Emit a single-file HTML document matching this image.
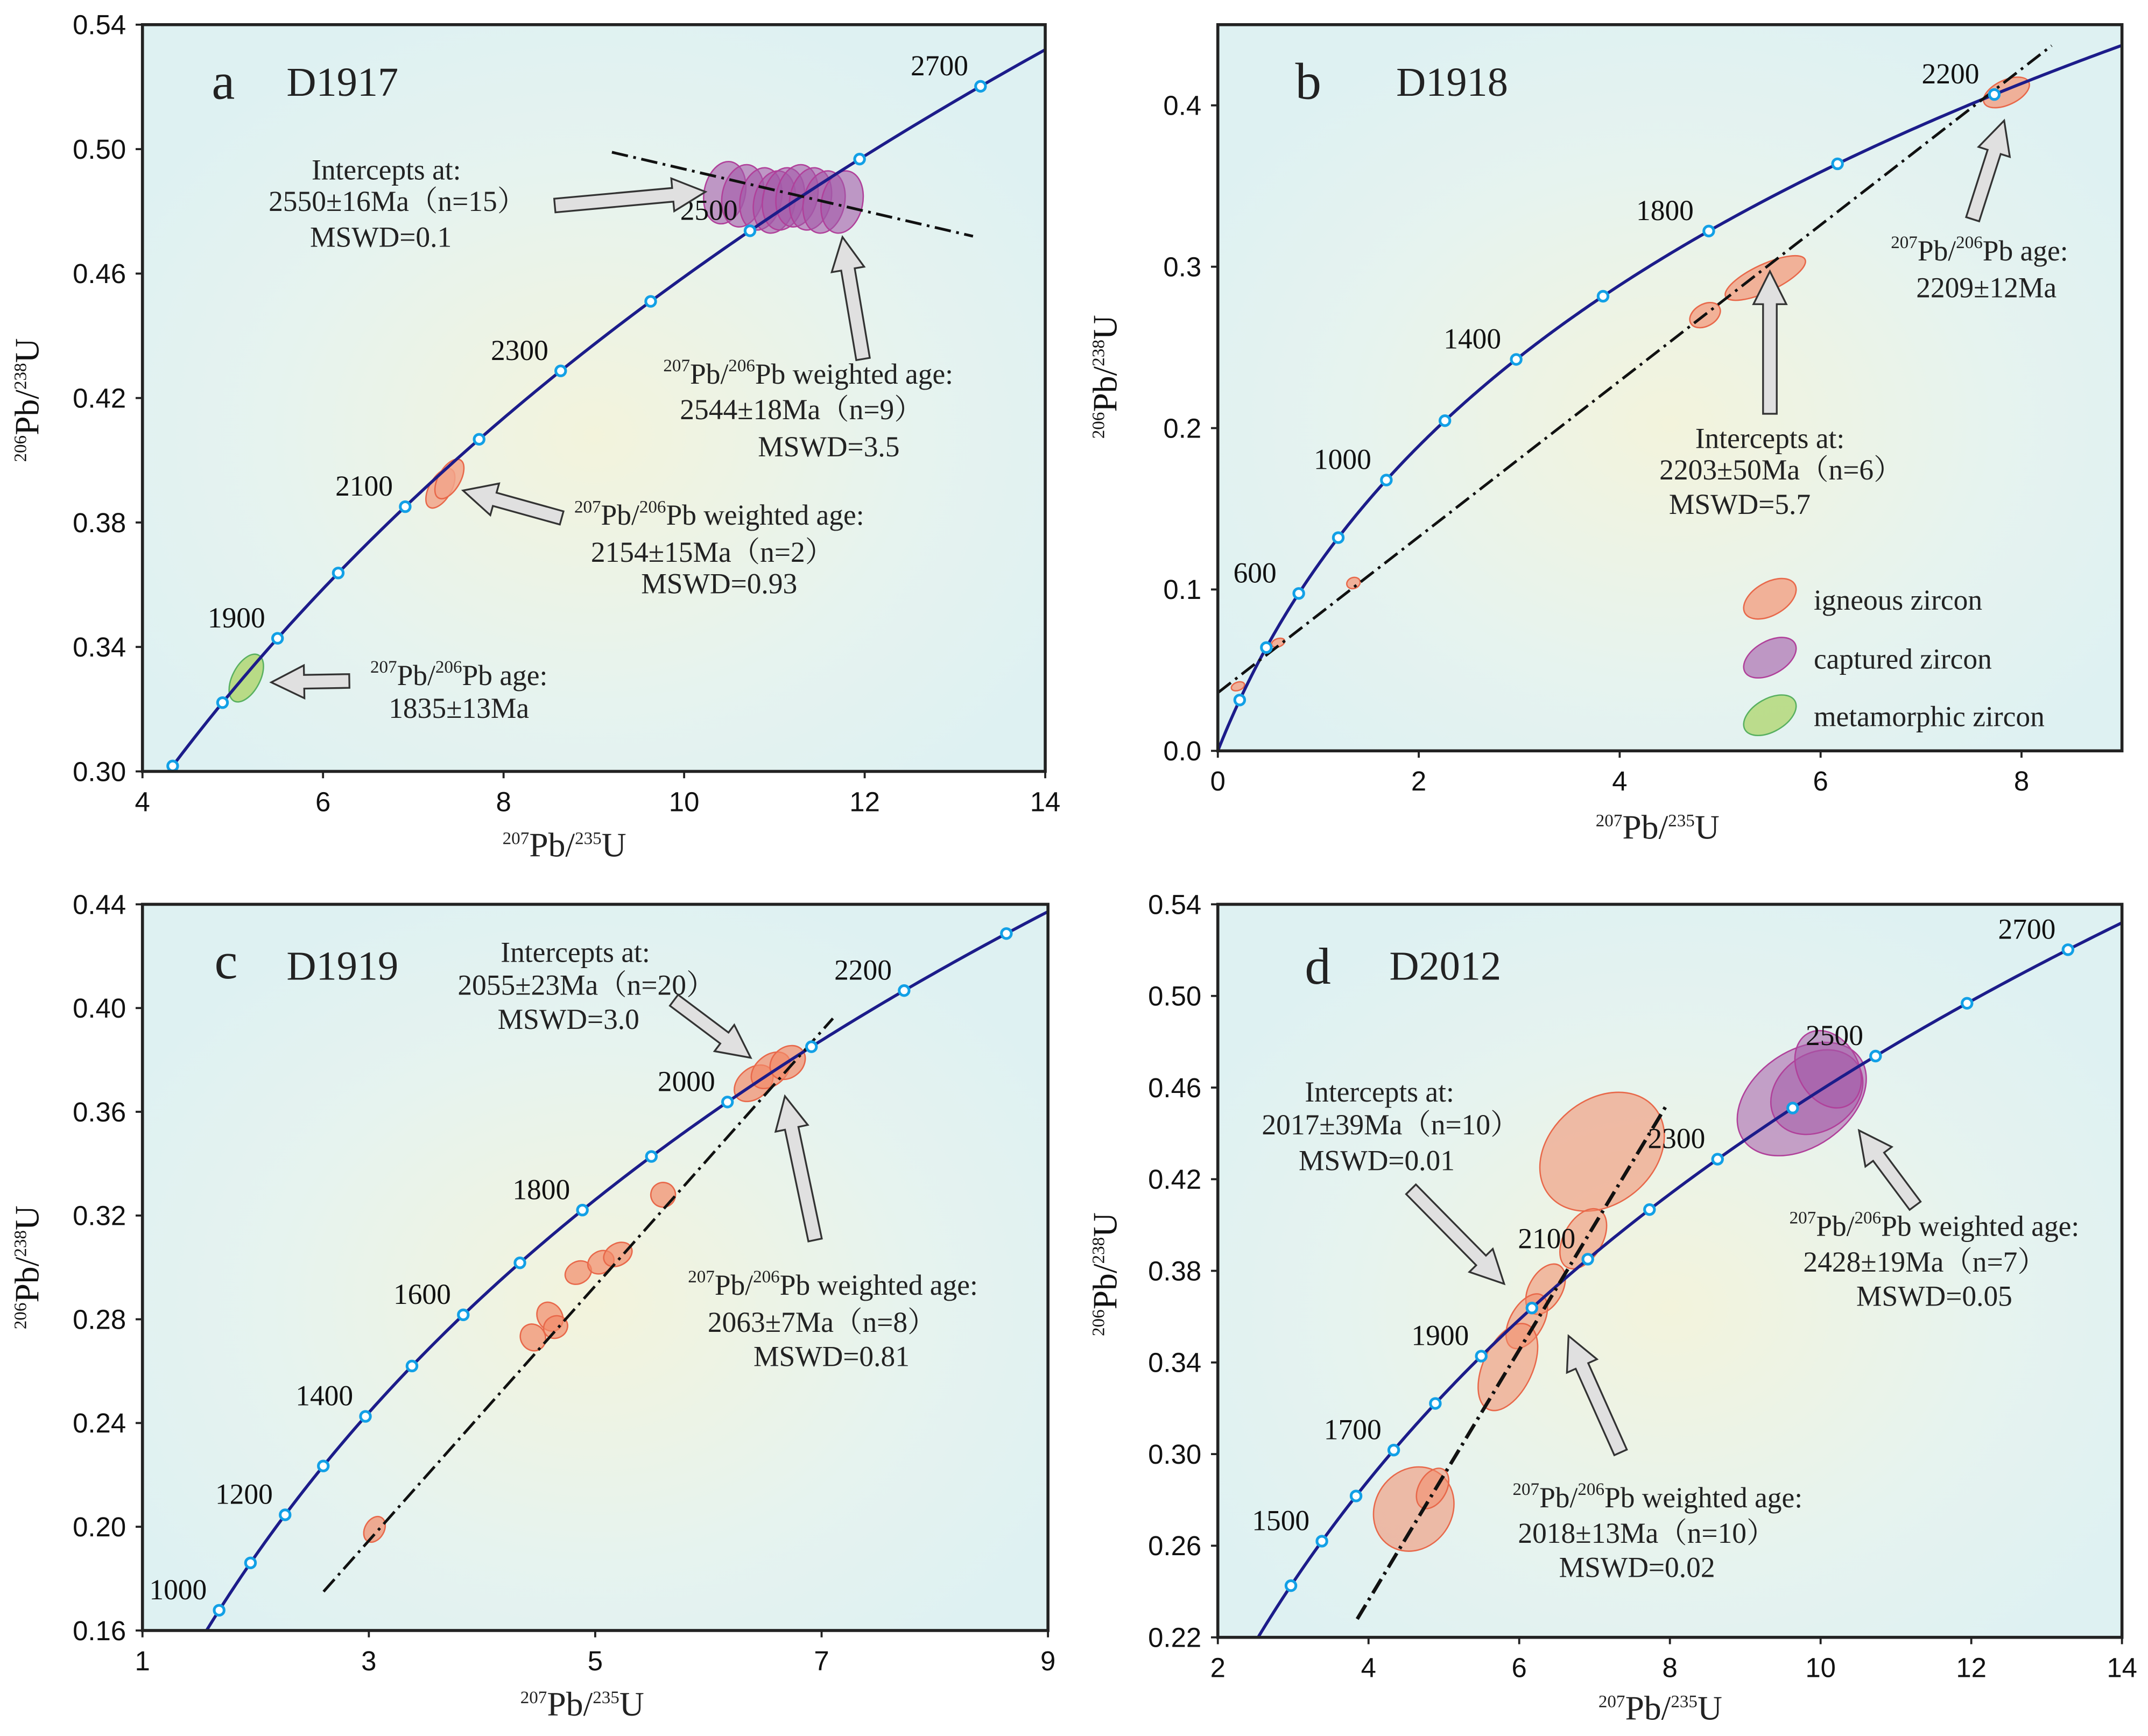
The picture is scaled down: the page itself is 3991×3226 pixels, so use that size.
<!DOCTYPE html>
<html><head><meta charset="utf-8"><style>html,body{margin:0;padding:0;background:#fff;overflow:hidden;width:3991px;height:3226px}svg{display:block}</style></head>
<body>
<svg id="fig" xmlns="http://www.w3.org/2000/svg" width="3991" height="3226" viewBox="0 0 1568 1267" preserveAspectRatio="none">
<defs>
<radialGradient id="bg" cx="0.5" cy="0.55" r="0.6">
<stop offset="0" stop-color="#f3f3dc"/><stop offset="0.6" stop-color="#e6f3ef"/><stop offset="1" stop-color="#def1f2"/>
</radialGradient>
</defs>
<rect width="1568" height="1267" fill="#fff"/>
</svg>
<script>
// ---------- data ----------
// Panel a
const aXTicks=[4,6,8,10,12,14];
const aYTicks=[0.30,0.34,0.38,0.42,0.46,0.50,0.54];
const aAgeLabels=[1900,2100,2300,2500,2700];
const aPurpleX=[10.45,10.65,10.85,11.0,11.1,11.25,11.4,11.55,11.75];
const aPurpleY=[0.486,0.485,0.484,0.483,0.484,0.485,0.484,0.483,0.483];
const aOrangeX=[7.3,7.4];const aOrangeY=[0.391,0.394];
const aGreenX=[5.15];const aGreenY=[0.330];
const aDisc=[[9.2,0.499],[13.2,0.472]];
// Panel b
const bXTicks=[0,2,4,6,8];
const bYTicks=[0.0,0.1,0.2,0.3,0.4];
const bAgeLabels=[600,1000,1400,1800,2200];
const bOrangeX=[7.85,5.45,4.85,1.35,0.6,0.2];
const bOrangeY=[0.408,0.293,0.270,0.104,0.067,0.040];
const bDisc=[[0,0.036],[8.3,0.437]];
// Panel c
const cXTicks=[1,3,5,7,9];
const cYTicks=[0.16,0.20,0.24,0.28,0.32,0.36,0.40,0.44];
const cAgeLabels=[1000,1200,1400,1600,1800,2000,2200];
const cOrangeX=[6.4,6.55,6.7,5.6,4.85,5.05,5.2,4.6,4.65,4.45,3.05];
const cOrangeY=[0.371,0.376,0.379,0.328,0.298,0.302,0.305,0.281,0.277,0.273,0.199];
const cDisc=[[2.6,0.175],[7.1,0.396]];
// Panel d
const dXTicks=[2,4,6,8,10,12,14];
const dYTicks=[0.22,0.26,0.30,0.34,0.38,0.42,0.46,0.50,0.54];
const dAgeLabels=[1500,1700,1900,2100,2300,2500,2700];
const dOrangeX=[7.1,6.85,6.35,6.1,5.85,4.6,4.85];
const dOrangeY=[0.432,0.394,0.372,0.358,0.338,0.276,0.285];
const dPurpleX=[9.75,9.95,10.1];
const dPurpleY=[0.455,0.458,0.468];
const dDisc=[[3.85,0.228],[7.95,0.452]];

// ---------- helpers ----------
const NS="http://www.w3.org/2000/svg";
const svg=document.getElementById('fig');
function mk(tag,attrs,parent){const e=document.createElementNS(NS,tag);for(const k in attrs)e.setAttribute(k,attrs[k]);(parent||svg).appendChild(e);return e;}
const L238=1.55125e-4,L235=9.8485e-4; // per Ma
function conc(t){return [Math.exp(L235*t)-1,Math.exp(L238*t)-1];}
function panel(cfg){
  const g=mk('g',{});
  
  
  const sx=v=>cfg.x0+(v-cfg.xd[0])/(cfg.xd[1]-cfg.xd[0])*(cfg.x1-cfg.x0);
  const sy=v=>cfg.y1-(v-cfg.yd[0])/(cfg.yd[1]-cfg.yd[0])*(cfg.y1-cfg.y0);
  const bg=mk('rect',{x:cfg.x0,y:cfg.y0,width:cfg.x1-cfg.x0,height:cfg.y1-cfg.y0,fill:'url(#bg)'},g);
  
  
  const cid='clip'+cfg.id;
  const cp=mk('clipPath',{id:cid},g);mk('rect',{x:cfg.x0,y:cfg.y0,width:cfg.x1-cfg.x0,height:cfg.y1-cfg.y0},cp);
  const inner=mk('g',{'clip-path':'url(#'+cid+')'},g);
  cfg.ells.forEach(s=>{
    s.xs.forEach((xv,i)=>{
      const e=mk('ellipse',{cx:0,cy:0,rx:s.rx[i],ry:s.ry[i],fill:s.fill,'fill-opacity':s.op,stroke:s.stroke,'stroke-width':1,
        transform:`translate(${sx(xv)},${sy(s.ys[i])}) rotate(${s.rot[i]})`},inner);
      
      
    });
  });
  let d='';
  for(let t=0;t<=3200;t+=5){const p=conc(t);d+=(t?'L':'M')+sx(p[0]).toFixed(2)+','+sy(p[1]).toFixed(2);}
  const cc=mk('path',{d:d,fill:'none',stroke:'#1c1c8a','stroke-width':2.2},inner);
  
  
  const dl=mk('line',{x1:sx(cfg.disc[0][0]),y1:sy(cfg.disc[0][1]),x2:sx(cfg.disc[1][0]),y2:sy(cfg.disc[1][1]),stroke:'#111','stroke-width':cfg.discW||2,'stroke-dasharray':'12,4,2,4'},inner);
  
  
  for(let t=cfg.ageStart;t<=cfg.ageEnd;t+=cfg.ageStep){
    const p=conc(t);
    const m=mk('circle',{cx:sx(p[0]),cy:sy(p[1]),r:3.6,fill:'#fff',stroke:'#12a0e6','stroke-width':2},inner);
    
    
  }
  cfg.ageLabels.forEach(t=>{
    const p=conc(t);
    const tx=mk('text',{x:sx(p[0])-cfg.lblDx,y:sy(p[1])-cfg.lblDy,'font-family':'"Liberation Serif",serif','font-size':21,'text-anchor':'middle',fill:'#111'},g);
    tx.textContent=t;
    
    
  });
  const fr=mk('rect',{x:cfg.x0,y:cfg.y0,width:cfg.x1-cfg.x0,height:cfg.y1-cfg.y0,fill:'none',stroke:'#222','stroke-width':2.2},g);
  
  
  cfg.xt.forEach(v=>{
    mk('line',{x1:sx(v),x2:sx(v),y1:cfg.y1,y2:cfg.y1+5,stroke:'#222','stroke-width':1.5},g);
    const t=mk('text',{x:sx(v),y:cfg.y1+29,'font-family':'"Liberation Sans",sans-serif','font-size':20,'text-anchor':'middle',fill:'#111'},g);
    t.textContent=v;
    
    
  });
  cfg.yt.forEach(v=>{
    mk('line',{x1:cfg.x0-5,x2:cfg.x0,y1:sy(v),y2:sy(v),stroke:'#222','stroke-width':1.5},g);
    const t=mk('text',{x:cfg.x0-12,y:sy(v)+7,'font-family':'"Liberation Sans",sans-serif','font-size':20,'text-anchor':'end',fill:'#111'},g);
    t.textContent=v.toFixed(cfg.yDec);
    
    
  });
  return g;
}
function rich(x,y,html,name,size,anchor){
  const t=mk('text',{x:x,y:y,'font-family':'"Liberation Serif","Noto Serif CJK SC",serif','font-size':size||21,'text-anchor':anchor||'middle',fill:'#222'});
  t.innerHTML=html;
  
  
  return t;
}
const SUP=(s)=>`<tspan font-size="13" dy="-9">${s}</tspan><tspan dy="9">`;
const PBPB=`${SUP('207')}Pb/</tspan>${SUP('206')}Pb</tspan>`;
function arrow(x1,y1,x2,y2,name){
  const dx=x2-x1,dy=y2-y1,L=Math.hypot(dx,dy),ux=dx/L,uy=dy/L,nx=-uy,ny=ux;
  const w=5,hw=12,hl=24;
  const bx=x2-ux*hl,by=y2-uy*hl;
  const pts=[[x1+nx*w,y1+ny*w],[bx+nx*w,by+ny*w],[bx+nx*hw,by+ny*hw],[x2,y2],[bx-nx*hw,by-ny*hw],[bx-nx*w,by-ny*w],[x1-nx*w,y1-ny*w]];
  const p=mk('polygon',{points:pts.map(q=>q.join(',')).join(' '),fill:'#e0e0e0',stroke:'#333','stroke-width':1.3});
  
  
}
function axisTitles(cx,by,lx,cy){
  rich(cx,by,`${SUP('207')}Pb/</tspan>${SUP('235')}U</tspan>`,'x-axis-title',25);
  const t=mk('text',{transform:`translate(${lx},${cy}) rotate(-90)`,'font-family':'"Liberation Serif",serif','font-size':25,'text-anchor':'middle',fill:'#111'});
  t.innerHTML=`${SUP('206')}Pb/</tspan>${SUP('238')}U</tspan>`;
  
  
}
const ORF='#f2a48a',ORS='#e8684a',PUF='#a45aa8',PUS='#b0409a',GRF='#b4d87a',GRS='#58b060';

// ---------- panel a ----------
panel({id:'a',name:'panel-a',x0:104,x1:763,y0:18,y1:563,xd:[4,14],yd:[0.30,0.54],xt:aXTicks,yt:aYTicks,yDec:2,
  ageStart:1700,ageEnd:2800,ageStep:100,ageLabels:aAgeLabels,lblDx:30,lblDy:8,disc:aDisc,
  ells:[{label:'captured-zircon',xs:aPurpleX,ys:aPurpleY,rx:aPurpleX.map(()=>15),ry:aPurpleX.map(()=>23),rot:aPurpleX.map(()=>12),fill:PUF,op:0.6,stroke:PUS},
        {label:'igneous-zircon',xs:aOrangeX,ys:aOrangeY,rx:[8,8],ry:[16,16],rot:[30,30],fill:ORF,op:0.85,stroke:ORS},
        {label:'metamorphic-zircon',xs:aGreenX,ys:aGreenY,rx:[10],ry:[19],rot:[28],fill:GRF,op:0.9,stroke:GRS}]});
rich(163,72,'a','panel-letter-a',38);
rich(250,70,'D1917','sample-label-a',30);
rich(282,131,'Intercepts at:','annot-a1-l1');
rich(290,154,'2550±16Ma（n=15）','annot-a1-l2');
rich(278,180,'MSWD=0.1','annot-a1-l3');
arrow(405,150,515,140,'arrow-a1');
rich(590,280,PBPB+' weighted age:','annot-a2-l1');
rich(585,306,'2544±18Ma（n=9）','annot-a2-l2');
rich(605,333,'MSWD=3.5','annot-a2-l3');
arrow(630,262,615,173,'arrow-a2');
rich(525,383,PBPB+' weighted age:','annot-a3-l1');
rich(520,410,'2154±15Ma（n=2）','annot-a3-l2');
rich(525,433,'MSWD=0.93','annot-a3-l3');
arrow(410,378,338,358,'arrow-a3');
rich(335,500,PBPB+' age:','annot-a4-l1');
rich(335,524,'1835±13Ma','annot-a4-l2');
arrow(255,497,198,498,'arrow-a4');
axisTitles(412,625,28,292);

// ---------- panel b ----------
panel({id:'b',name:'panel-b',x0:889,x1:1549,y0:18,y1:548,xd:[0,9],yd:[0,0.45],xt:bXTicks,yt:bYTicks,yDec:1,
  ageStart:200,ageEnd:2600,ageStep:200,ageLabels:bAgeLabels,lblDx:32,lblDy:8,disc:bDisc,
  ells:[{label:'igneous-zircon',xs:bOrangeX,ys:bOrangeY,rx:[18,32,12,5,5,5],ry:[9,10,8,4,3,3],rot:[-25,-25,-30,-20,-20,-20],fill:ORF,op:0.85,stroke:ORS}]});
rich(955,72,'b','panel-letter-b',38);
rich(1060,70,'D1918','sample-label-b',30);
rich(1445,190,`${SUP('207')}Pb/</tspan>${SUP('206')}Pb</tspan>  age:`,'annot-b1-l1');
rich(1450,217,'2209±12Ma','annot-b1-l2');
arrow(1440,160,1463,88,'arrow-b1');
rich(1292,327,'Intercepts at:','annot-b2-l1');
rich(1300,350,'2203±50Ma（n=6）','annot-b2-l2');
rich(1270,375,'MSWD=5.7','annot-b2-l3');
arrow(1292,302,1292,198,'arrow-b2');
[[ORF,ORS,'igneous zircon',437],[PUF,PUS,'captured zircon',480],[GRF,GRS,'metamorphic zircon',522]].forEach(l=>{
  const e=mk('ellipse',{cx:0,cy:0,rx:21,ry:12,fill:l[0],'fill-opacity':l[0]===PUF?0.6:0.85,stroke:l[1],transform:`translate(1292,${l[3]}) rotate(-30)`});
  
  
  rich(1324,l[3]+8,l[2],'legend-entry',21,'start');
});
axisTitles(1210,612,815,275);

// ---------- panel c ----------
panel({id:'c',name:'panel-c',x0:104,x1:765,y0:660,y1:1190,xd:[1,9],yd:[0.16,0.44],xt:cXTicks,yt:cYTicks,yDec:2,
  ageStart:1000,ageEnd:2400,ageStep:100,ageLabels:cAgeLabels,lblDx:30,lblDy:8,disc:cDisc,
  ells:[{label:'igneous-zircon',xs:cOrangeX,ys:cOrangeY,rx:[16,16,14,9,10,10,11,9,9,9,7],ry:[11,11,11,9,8,8,8,11,8,10,10],rot:[-40,-40,-40,-30,-30,-30,-30,-30,-30,-30,30],fill:'#f28a6a',op:0.7,stroke:ORS}]});
rich(165,714,'c','panel-letter-c',38);
rich(250,715,'D1919','sample-label-c',30);
rich(420,702,'Intercepts at:','annot-c1-l1');
rich(428,726,'2055±23Ma（n=20）','annot-c1-l2');
rich(415,751,'MSWD=3.0','annot-c1-l3');
arrow(492,730,548,772,'arrow-c1');
rich(608,945,PBPB+' weighted age:','annot-c2-l1');
rich(600,972,'2063±7Ma（n=8）','annot-c2-l2');
rich(607,997,'MSWD=0.81','annot-c2-l3');
arrow(595,905,573,800,'arrow-c2');
axisTitles(425,1252,28,925);

// ---------- panel d ----------
panel({id:'d',name:'panel-d',x0:889,x1:1549,y0:660,y1:1195,xd:[2,14],yd:[0.22,0.54],xt:dXTicks,yt:dYTicks,yDec:2,
  ageStart:1400,ageEnd:2800,ageStep:100,ageLabels:dAgeLabels,lblDx:30,lblDy:8,disc:dDisc,discW:2.6,
  ells:[{label:'igneous-zircon',xs:dOrangeX,ys:dOrangeY,rx:[50,14,12,12,18,28,10],ry:[38,24,20,22,34,32,16],rot:[-40,30,30,30,25,35,30],fill:'#f28a6a',op:0.55,stroke:ORS},
        {label:'captured-zircon',xs:dPurpleX,ys:dPurpleY,rx:[52,36,22],ry:[35,28,30],rot:[-35,-35,-30],fill:PUF,op:0.55,stroke:PUS}]});
rich(962,718,'d','panel-letter-d',38);
rich(1055,715,'D2012','sample-label-d',30);
rich(1007,804,'Intercepts at:','annot-d1-l1');
rich(1015,828,'2017±39Ma（n=10）','annot-d1-l2');
rich(1005,854,'MSWD=0.01','annot-d1-l3');
arrow(1030,868,1098,937,'arrow-d1');
rich(1210,1100,PBPB+' weighted age:','annot-d2-l1');
rich(1202,1126,'2018±13Ma（n=10）','annot-d2-l2');
rich(1195,1151,'MSWD=0.02','annot-d2-l3');
arrow(1183,1060,1145,975,'arrow-d2');
rich(1412,902,PBPB+' weighted age:','annot-d3-l1');
rich(1405,928,'2428±19Ma（n=7）','annot-d3-l2');
rich(1412,953,'MSWD=0.05','annot-d3-l3');
arrow(1398,880,1357,825,'arrow-d3');
axisTitles(1212,1255,815,930);
</script>
</body></html>
